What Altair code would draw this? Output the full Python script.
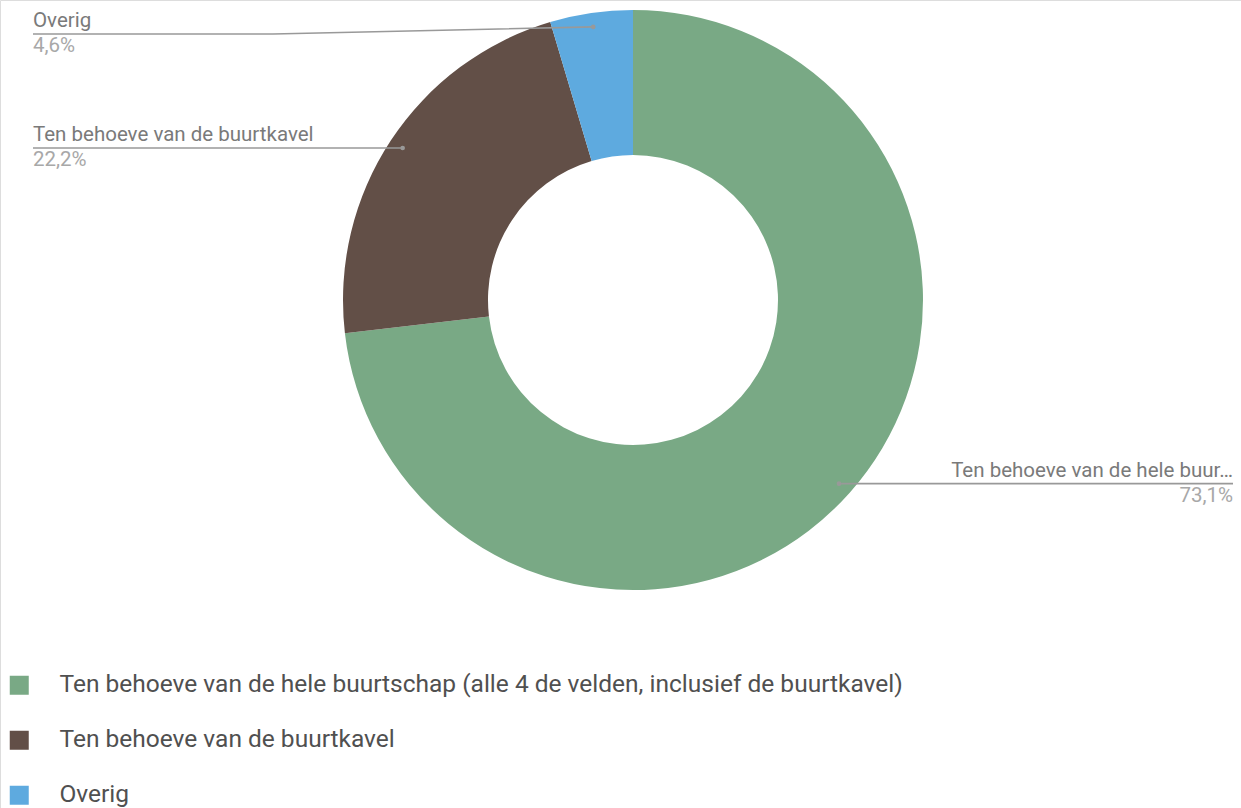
import math
import altair as alt
import pandas as pd

# ---- data ----
categories = [
    "Ten behoeve van de hele buurtschap (alle 4 de velden, inclusief de buurtkavel)",
    "Ten behoeve van de buurtkavel",
    "Overig",
]
values = [73.1, 22.2, 4.6]
short_labels = ["Ten behoeve van de hele buur…", "Ten behoeve van de buurtkavel", "Overig"]
pct_labels = ["73,1%", "22,2%", "4,6%"]
colors = ["#79a985", "#624f47", "#5eaadf"]

# ---- layout ----
W, H = 1241, 808
CX, CY = 633, 300
R_OUT, R_IN, R_DOT = 290, 145, 276
LEFT_X, ELBOW_X, RIGHT_X = 33, 273, 1233
TOP_MIN = 34
FONT = "Roboto"
LABEL_SIZE = 20.5

arc_df = pd.DataFrame({"cat": categories, "value": values, "ord": list(range(len(values)))})

total = sum(values)
line_rows, dot_rows, text_rows = [], [], []
cum = 0.0
for i, (c, v) in enumerate(zip(categories, values)):
    mid = (cum + v / 2) / total * 2 * math.pi
    cum += v
    dx = CX + R_DOT * math.sin(mid)
    dy = CY - R_DOT * math.cos(mid)
    dot_rows.append({"cat": c, "x": dx, "y": dy})
    if math.sin(mid) < 0:
        ly = max(dy, TOP_MIN)
        pts = [(LEFT_X, ly), (ELBOW_X, ly), (dx, dy)]
        tx, side = LEFT_X, "left"
    else:
        ly = dy
        pts = [(dx, dy), (RIGHT_X, dy)]
        tx, side = RIGHT_X, "right"
    for k, (px, py) in enumerate(pts):
        line_rows.append({"cat": c, "k": k, "x": px, "y": py})
    text_rows.append({"cat": c, "x": tx, "y": ly - 7, "t": short_labels[i], "kind": "name", "side": side})
    text_rows.append({"cat": c, "x": tx, "y": ly + 18, "t": pct_labels[i], "kind": "pct", "side": side})

line_df = pd.DataFrame(line_rows)
dot_df = pd.DataFrame(dot_rows)
text_df = pd.DataFrame(text_rows)

arc = alt.Chart(arc_df).mark_arc(radius=R_OUT, innerRadius=R_IN).encode(
    theta=alt.Theta("value:Q", stack=True),
    order=alt.Order("ord:Q", sort="ascending"),
    color=alt.Color(
        "cat:N",
        scale=alt.Scale(domain=categories, range=colors),
        legend=alt.Legend(
            title=None,
            orient="none",
            legendX=7,
            legendY=673,
            symbolType="square",
            symbolSize=361,
            symbolStrokeWidth=0,
            labelFontSize=24.5,
            labelFont=FONT,
            labelColor="#505050",
            labelLimit=0,
            labelOffset=28,
            rowPadding=30,
        ),
    ),
    x=alt.value(CX),
    y=alt.value(CY),
)

lines = alt.Chart(line_df).mark_line(color="#999999", strokeWidth=1.6).encode(
    x=alt.X("x:Q", scale=None),
    y=alt.Y("y:Q", scale=None),
    detail="cat:N",
    order="k:Q",
)

dots = alt.Chart(dot_df).mark_circle(color="#999999", size=22, opacity=1).encode(
    x=alt.X("x:Q", scale=None),
    y=alt.Y("y:Q", scale=None),
)

def text_layer(kind, color, side):
    d = text_df[(text_df["kind"] == kind) & (text_df["side"] == side)]
    return alt.Chart(d).mark_text(
        align=side, baseline="alphabetic", font=FONT, fontSize=LABEL_SIZE, color=color
    ).encode(
        x=alt.X("x:Q", scale=None),
        y=alt.Y("y:Q", scale=None),
        text="t:N",
    )

texts = [
    text_layer("name", "#7a7a7a", "left"),
    text_layer("pct", "#a8a8a8", "left"),
    text_layer("name", "#7a7a7a", "right"),
    text_layer("pct", "#a8a8a8", "right"),
]

chart = alt.layer(arc, lines, dots, *texts).properties(
    width=W, height=H, autosize="none", padding=0
).configure_view(stroke=None).configure(background="white")

chart.save("out.html", embed_options={"renderer": "svg", "actions": False})
